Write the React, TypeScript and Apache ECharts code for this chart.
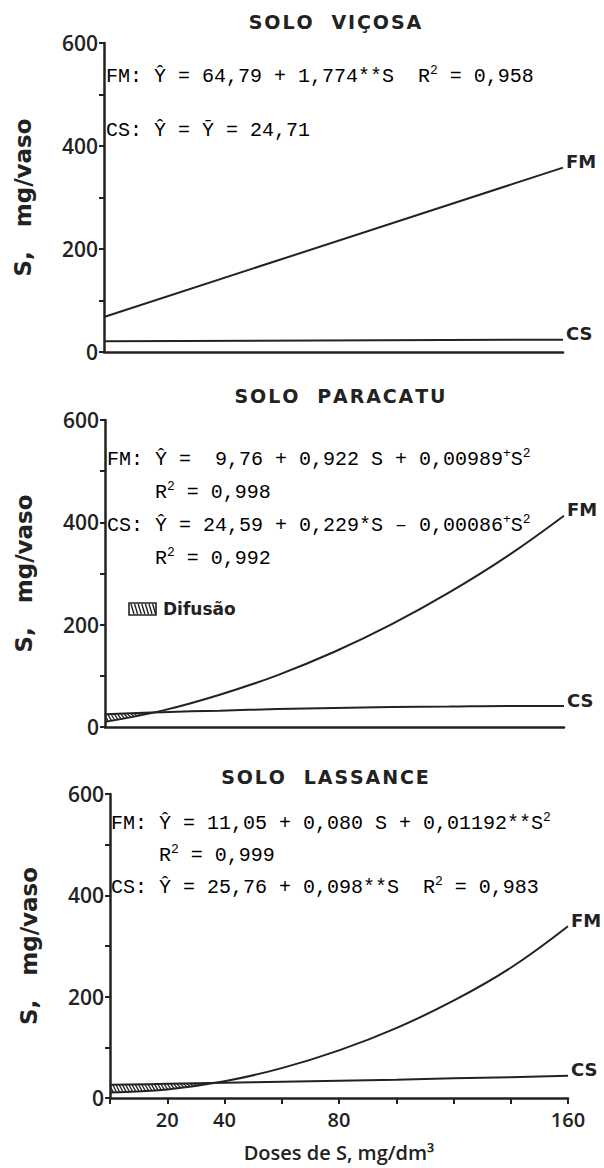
import React, { useEffect, useRef } from "react";
import * as echarts from "echarts";

// ---------- data ----------
const TITLES = ["SOLO  VIÇOSA", "SOLO  PARACATU", "SOLO  LASSANCE"];
const Y_LABELED = [0, 200, 400, 600];
const X_LABELED = [20, 40, 80, 160];

const VICOSA_DOSES = [0, 160];
const VICOSA_FM = [68, 358];
const VICOSA_CS = [21, 24];

const PARACATU_DOSES = [0, 20, 40, 60, 80, 100, 120, 140, 160];
const PARACATU_FM = [10, 32, 63, 101, 147, 201, 263, 333, 413];
const PARACATU_CS = [25, 29, 32, 35, 37, 39, 40, 41, 41];

const LASSANCE_DOSES = [0, 20, 40, 60, 80, 100, 120, 140, 160];
const LASSANCE_FM = [11, 17, 33, 59, 94, 138, 192, 257, 339];
const LASSANCE_CS = [26, 28, 30, 32, 34, 36, 39, 41, 44];

const EQ_VICOSA = [
  "{b|FM: Ŷ = 64,79 + 1,774**S\u00a0\u00a0R}{s|2}{b| = 0,958}",
  "{b|CS: Ŷ = Ȳ = 24,71}",
];
const EQ_PARACATU = [
  "{b|FM: Ŷ =\u00a0\u00a09,76 + 0,922 S + 0,00989}{s|+}{b|S}{s|2}",
  "{b|\u00a0\u00a0\u00a0\u00a0R}{s|2}{b| = 0,998}",
  "{b|CS: Ŷ = 24,59 + 0,229*S – 0,00086}{s|+}{b|S}{s|2}",
  "{b|\u00a0\u00a0\u00a0\u00a0R}{s|2}{b| = 0,992}",
];
const EQ_LASSANCE = [
  "{b|FM: Ŷ = 11,05 + 0,080 S + 0,01192**S}{s|2}",
  "{b|\u00a0\u00a0\u00a0\u00a0R}{s|2}{b| = 0,999}",
  "{b|CS: Ŷ = 25,76 + 0,098**S\u00a0\u00a0R}{s|2}{b| = 0,983}",
];

// ---------- layout ----------
const GRIDS = [
  { left: 104, top: 43, width: 459, height: 309 },
  { left: 105, top: 420, width: 459, height: 307 },
  { left: 110, top: 794, width: 458, height: 304 },
];
const INK = "#222";
const SANS = "DejaVu Sans, Noto Sans, sans-serif";
const LABEL_FONT = "Open Sans, DejaVu Sans, sans-serif";
const MONO = "Liberation Mono, DejaVu Sans Mono, monospace";
const HS = "\u200a";
const spaced = (s: string) => s.split("").join(HS);

const zip = (xs: number[], ys: number[]) => xs.map((x, i) => [x, ys[i]]);

const interp = (xs: number[], ys: number[], x: number) => {
  if (x <= xs[0]) return ys[0];
  for (let i = 0; i < xs.length - 1; i++) {
    if (x <= xs[i + 1]) {
      const t = (x - xs[i]) / (xs[i + 1] - xs[i]);
      return ys[i] + t * (ys[i + 1] - ys[i]);
    }
  }
  return ys[ys.length - 1];
};

function hatchSeries(doses: number[], top: number[], bottom: number[], gi: number) {
  let xEnd = doses[doses.length - 1];
  for (let i = 0; i < doses.length - 1; i++) {
    const d0 = top[i] - bottom[i];
    const d1 = top[i + 1] - bottom[i + 1];
    if (d0 > 0 && d1 <= 0) {
      xEnd = doses[i] + ((doses[i + 1] - doses[i]) * d0) / (d0 - d1);
      break;
    }
  }
  return {
    type: "custom",
    xAxisIndex: gi,
    yAxisIndex: gi,
    silent: true,
    z: 1,
    data: [[0, 0]],
    renderItem: (_p: any, api: any) => {
      const o = api.coord([0, 0]);
      const e = api.coord([160, 0]);
      const ppu = (e[0] - o[0]) / 160;
      const step = 3.2 / ppu;
      const slant = 3.6 / ppu;
      const children: any[] = [];
      for (let a = -slant + step; a < xEnd; a += step) {
        const aa = Math.max(a, 0);
        const b = Math.min(a + slant, xEnd);
        let A = api.coord([a, interp(doses, top, aa)]);
        const B = api.coord([b, interp(doses, bottom, b)]);
        if (a < 0) {
          const px0 = o[0];
          const t = (px0 - A[0]) / (B[0] - A[0]);
          A = [px0, A[1] + t * (B[1] - A[1])];
        }
        children.push({
          type: "line",
          shape: { x1: A[0], y1: A[1], x2: B[0], y2: B[1] },
          style: { stroke: INK, lineWidth: 1.3 },
        });
      }
      return { type: "group", children };
    },
  };
}

function lineSeries(doses: number[], vals: number[], gi: number, label: string, smooth: boolean) {
  return {
    type: "line",
    xAxisIndex: gi,
    yAxisIndex: gi,
    data: zip(doses, vals),
    showSymbol: false,
    smooth: smooth ? 0.4 : false,
    silent: true,
    z: 3,
    lineStyle: { color: INK, width: 2 },
    endLabel: {
      show: true,
      formatter: label,
      fontFamily: SANS,
      fontWeight: "bold",
      fontSize: 18,
      color: INK,
      distance: 3,
      offset: [0, -6],
    },
  };
}

function eqTexts(lines: string[], x: number, y0: number, dy: number) {
  return lines.map((t, i) => ({
    type: "text",
    x,
    y: y0 + i * dy,
    style: {
      text: t,
      verticalAlign: "middle",
      rich: {
        b: { fontFamily: MONO, fontSize: 20, color: "#4a4a4a", lineHeight: 24 },
        s: { fontFamily: MONO, fontSize: 13, color: "#4a4a4a", lineHeight: 13, verticalAlign: "top" },
      },
    },
  }));
}

export default function App() {
  const ref = useRef<HTMLDivElement>(null);
  useEffect(() => {
    const chart = echarts.init(ref.current!, null, { renderer: "svg" });
    const xAxis = GRIDS.map((_, i) => ({
      type: "value",
      gridIndex: i,
      min: 0,
      max: 160,
      interval: 20,
      axisLine: { show: true, lineStyle: { color: INK, width: 2.5 } },
      axisTick: { show: i === 2, length: 6, lineStyle: { color: INK, width: 2 } },
      axisLabel: {
        show: i === 2,
        margin: 11,
        fontFamily: LABEL_FONT,
        fontWeight: 600,
        fontSize: 20,
        color: INK,
        formatter: (v: number) => (X_LABELED.includes(v) ? String(v) : ""),
      },
      splitLine: { show: false },
      name: i === 2 ? "Doses de S, mg/dm³" : "",
      nameLocation: "middle",
      nameGap: 44,
      nameTextStyle: { fontFamily: LABEL_FONT, fontWeight: 600, fontSize: 20, color: INK },
    }));
    const yAxis = GRIDS.map((_, i) => ({
      type: "value",
      gridIndex: i,
      min: 0,
      max: 600,
      interval: 100,
      axisLine: { show: true, lineStyle: { color: INK, width: 2.5 } },
      axisTick: { show: true, length: 5, lineStyle: { color: INK, width: 2 } },
      axisLabel: {
        margin: 6,
        fontFamily: LABEL_FONT,
        fontWeight: 600,
        fontSize: 21,
        color: INK,
        formatter: (v: number) => (Y_LABELED.includes(v) ? String(v) : ""),
      },
      splitLine: { show: false },
      name: "S,\u00a0\u00a0\u00a0mg/vaso",
      nameLocation: "middle",
      nameGap: 70,
      nameTextStyle: { fontFamily: SANS, fontSize: 23, fontWeight: "bold", color: INK },
    }));

    const titles = TITLES.map((t, i) => ({
      text: spaced(t),
      left: [330, 335, 320][i],
      top: [7, 381, 762][i],
      textAlign: "center",
      textStyle: { fontFamily: SANS, fontSize: 19, fontWeight: "bold", color: INK },
    }));

    const legendBox = {
      type: "group",
      x: 129,
      y: 603,
      children: [
        { type: "rect", shape: { x: 0, y: 0, width: 27, height: 12 }, style: { fill: "#fff", stroke: INK, lineWidth: 1.6 } },
        ...[0, 1, 2, 3, 4, 5, 6].map((k) => ({
          type: "line",
          shape: { x1: 2 + k * 3.6, y1: 1, x2: 5 + k * 3.6, y2: 11 },
          style: { stroke: INK, lineWidth: 1.4 },
        })),
      ],
    };

    chart.setOption({
      animation: false,
      backgroundColor: "#fff",
      title: titles,
      grid: GRIDS,
      xAxis,
      yAxis,
      graphic: [
        ...eqTexts(EQ_VICOSA, 106, 76, 54),
        ...eqTexts(EQ_PARACATU, 107, 459, 33),
        ...eqTexts(EQ_LASSANCE, 111, 823, 32),
        legendBox,
        {
          type: "text",
          x: 163,
          y: 609,
          style: { text: "Difusão", fontFamily: SANS, fontWeight: "bold", fontSize: 17, fill: INK, verticalAlign: "middle" },
        },
      ],
      series: [
        lineSeries(VICOSA_DOSES, VICOSA_FM, 0, "FM", false),
        lineSeries(VICOSA_DOSES, VICOSA_CS, 0, "CS", false),
        lineSeries(PARACATU_DOSES, PARACATU_FM, 1, "FM", true),
        lineSeries(PARACATU_DOSES, PARACATU_CS, 1, "CS", true),
        hatchSeries(PARACATU_DOSES, PARACATU_CS, PARACATU_FM, 1),
        lineSeries(LASSANCE_DOSES, LASSANCE_FM, 2, "FM", true),
        lineSeries(LASSANCE_DOSES, LASSANCE_CS, 2, "CS", true),
        hatchSeries(LASSANCE_DOSES, LASSANCE_CS, LASSANCE_FM, 2),
      ],
    });
    return () => chart.dispose();
  }, []);
  return (
    <div
      ref={ref}
      style={{ position: "absolute", left: 0, top: 0, width: 604, height: 1168, background: "#fff" }}
    />
  );
}
